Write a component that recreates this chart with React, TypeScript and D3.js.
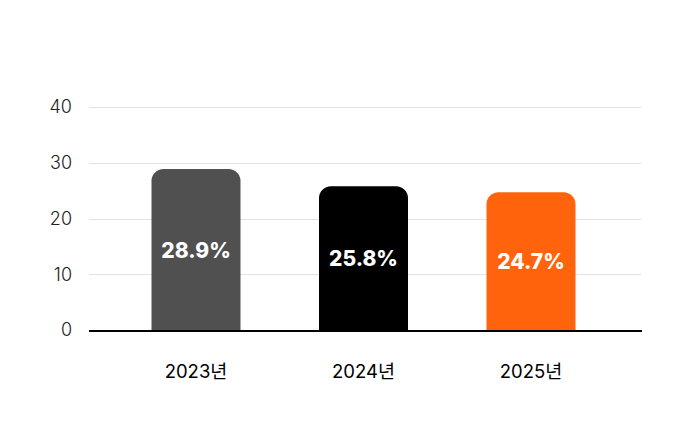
import React from "react";
import * as d3 from "d3";

const categories = ["2023년", "2024년", "2025년"];
const values = [28.9, 25.8, 24.7];
const valueLabels = ["28.9%", "25.8%", "24.7%"];
const barColors = ["#505050", "#000000", "#FF630B"];
const yTicks = [0, 10, 20, 30, 40];

const W = 689;
const H = 445;
const plotLeft = 89;
const plotRight = 641;
const y0 = 331;
const yTop = 107;

export default function App() {
  const x = d3
    .scaleBand<string>()
    .domain(categories)
    .range([84.5, 642.5])
    .paddingInner(0.4687)
    .paddingOuter(0.4);
  const y = d3.scaleLinear().domain([0, 40]).range([y0 - 1, yTop]);
  const r = 12;
  const font = "Inter, 'Noto Sans CJK KR', sans-serif";

  const barPath = (xs: number, w: number, top: number, bottom: number) => {
    const p = d3.path();
    p.moveTo(xs, bottom);
    p.lineTo(xs, top + r);
    p.arcTo(xs, top, xs + r, top, r);
    p.lineTo(xs + w - r, top);
    p.arcTo(xs + w, top, xs + w, top + r, r);
    p.lineTo(xs + w, bottom);
    p.closePath();
    return p.toString();
  };

  return (
    <svg
      width={W}
      height={H}
      style={{ position: "absolute", left: 0, top: 0, background: "#fff" }}
    >
      {yTicks.map((t) => (
        <g key={t}>
          {t !== 0 && (
            <line
              x1={plotLeft}
              x2={plotRight}
              y1={Math.round(y(t)) + 0.5}
              y2={Math.round(y(t)) + 0.5}
              stroke="#e2e2e2"
              strokeWidth={1}
            />
          )}
          <text
            x={72}
            y={y(t)}
            dy="0.36em"
            textAnchor="end"
            fontFamily={font}
            fontWeight={300}
            fontSize={18}
            fill="#222"
          >
            {t}
          </text>
        </g>
      ))}
      {categories.map((c, i) => {
        const xs = x(c)!;
        const w = x.bandwidth();
        const top = y(values[i]);
        const bottom = y0;
        return (
          <g key={c}>
            <path d={barPath(xs, w, top, bottom)} fill={barColors[i]} />
            <text
              x={xs + w / 2}
              y={(top + bottom) / 2}
              dy="0.36em"
              textAnchor="middle"
              fontFamily={font}
              fontWeight={800}
              fontSize={21}
              fill="#fff"
            >
              {valueLabels[i]}
            </text>
            <text
              x={xs + w / 2}
              y={378}
              textAnchor="middle"
              fontFamily={font}
              fontWeight={400}
              fontSize={18.5}
              fill="#000"
            >
              {c}
            </text>
          </g>
        );
      })}
      <line x1={plotLeft} x2={plotRight + 1} y1={y0} y2={y0} stroke="#000" strokeWidth={2} />
    </svg>
  );
}
